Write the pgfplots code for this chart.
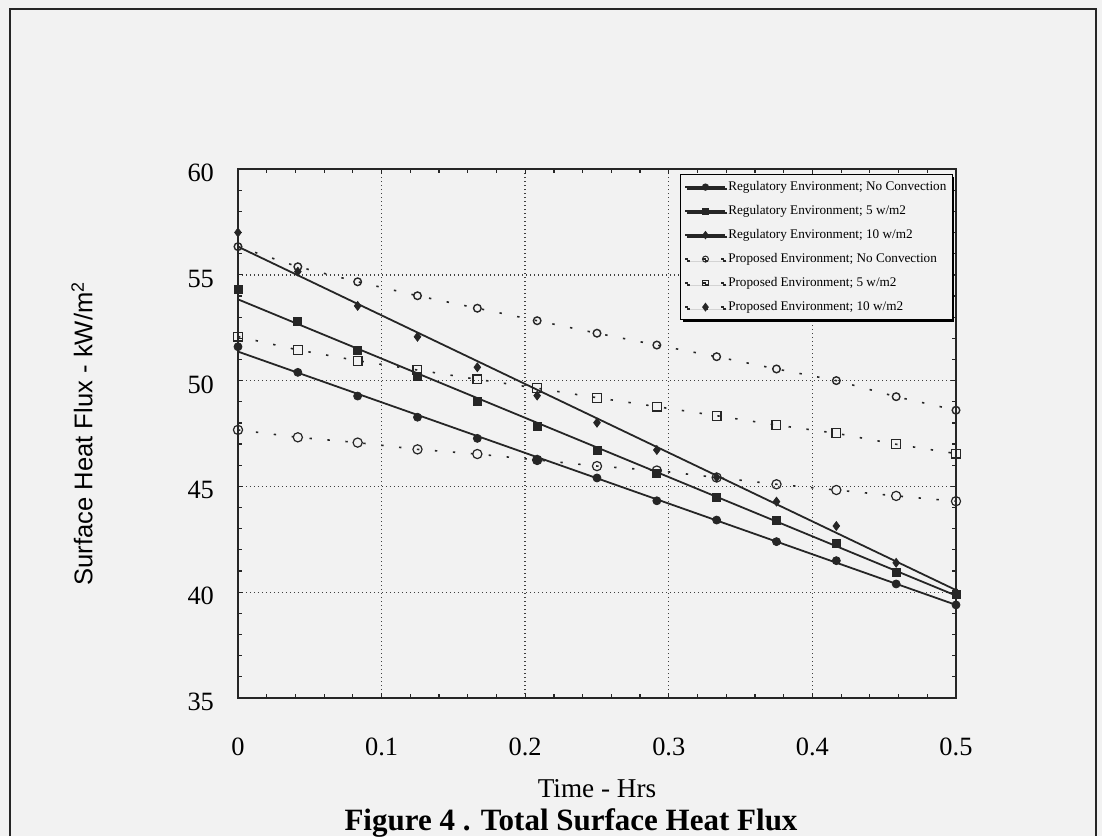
\documentclass[border=0pt]{standalone}
\usepackage{fontspec}
\setmainfont{Liberation Serif}
\newfontfamily\sansfont{Liberation Sans}
\usepackage{pgfplots}
\usepackage{pgfplotstable}
\pgfplotsset{compat=1.18}
\usetikzlibrary{shadows}

% t in hours, flux in kW/m2 (R = regulatory, P = proposed; 0/5/10 = convection w/m2)
\pgfplotstableread{
t       R0    R5    R10   P0    P5    P10
0       51.60 54.31 57.00 47.67 52.08 56.33
0.04167 50.39 52.78 55.15 47.32 51.45 55.38
0.08333 49.27 51.45 53.53 47.07 50.94 54.67
0.125   48.27 50.18 52.07 46.75 50.50 54.01
0.16667 47.27 49.00 50.63 46.53 50.06 53.42
0.20833 46.25 47.82 49.29 46.25 49.64 52.83
0.25    45.40 46.69 48.01 45.96 49.19 52.24
0.29167 44.32 45.60 46.72 45.75 48.77 51.68
0.33333 43.41 44.49 45.43 45.42 48.34 51.13
0.375   42.39 43.41 44.28 45.10 47.90 50.55
0.41667 41.49 42.31 43.13 44.83 47.51 50.00
0.45833 40.39 40.94 41.39 44.55 46.99 49.24
0.5     39.40 39.90 40.00 44.30 46.55 48.60
}\fluxdata

\begin{document}
\begin{tikzpicture}
\path[use as bounding box, fill=black!5] (-119pt,-69pt) rectangle (432pt,349pt);
\draw[line width=1.2pt, black!85] (-114pt,-69pt) -- (-114pt,344.5pt) -- (429pt,344.5pt) -- (429pt,-69pt);

\begin{axis}[
    at={(0,0)}, anchor=south west,
    scale only axis, width=359pt, height=264.5pt,
    xmin=0, xmax=0.5, ymin=35, ymax=60,
    xtick={0,0.1,0.2,0.3,0.4,0.5},
    ytick={35,40,45,50,55,60},
    minor tick num=4,
    tick align=inside,
    major tick length=2.5pt, minor tick length=2pt,
    axis line style={line width=0.8pt, black!85},
    every tick/.style={black!85, line width=0.6pt},
    grid=major,
    major grid style={black!75, line width=0.7pt, dash pattern=on 0.7pt off 1.3pt},
    clip=false,
    /pgf/number format/assume math mode=true,
    tick label style={font=\fontsize{13.2}{15}\selectfont},
    xticklabel style={anchor=base, yshift=-28.5pt},
    yticklabel style={anchor=east, xshift=-8.5pt, yshift=-2pt},
    xlabel={Time - Hrs},
    ylabel={Surface Heat Flux - kW/m\textsuperscript{2}},
    every axis x label/.style={at={(axis description cs:0.5,0)}, anchor=base, yshift=-49.5pt, font=\fontsize{13.6}{16}\selectfont},
    every axis y label/.style={at={(axis description cs:0,0.5)}, xshift=-78pt, rotate=90, anchor=center, font=\sansfont\fontsize{12.8}{15}\selectfont},
    legend image code/.code={\draw[mark repeat=2,mark phase=2,#1] plot coordinates {(0pt,0pt) (10pt,0pt) (20pt,0pt)};},
    legend style={at={(rel axis cs:1,1)}, anchor=north east, xshift=-1.5pt, yshift=-2.5pt,
        draw=black, line width=0.6pt, fill=black!5,
        drop shadow={shadow xshift=1pt, shadow yshift=-1pt, fill=black, opacity=1},
        font=\fontsize{6.6}{8}\selectfont,
        inner xsep=2pt, inner ysep=2pt, row sep=3.5pt,
        nodes={inner sep=1pt, text height=5pt, text depth=1.5pt, anchor=west}},
    legend cell align=left,
]
% regulatory: fitted straight lines and data marks
\addplot[black!85, line width=0.9pt, forget plot] coordinates {(0,51.37) (0.5,39.40)};
\addplot[black!85, line width=0.9pt, forget plot] coordinates {(0,53.84) (0.5,39.84)};
\addplot[black!85, line width=0.9pt, forget plot] coordinates {(0,56.33) (0.5,40.10)};
\addplot[only marks, mark=*, mark size=2pt, black!85, forget plot] table[x=t, y=R0] {\fluxdata};
\addplot[only marks, mark=square*, mark size=2pt, black!85, forget plot] table[x=t, y=R5] {\fluxdata};
\addplot[only marks, mark=diamond*, mark size=2.2pt, black!85, forget plot] table[x=t, y=R10] {\fluxdata};

% proposed: dotted lines with open marks
\addplot[black!85, line width=0.8pt, dash pattern=on 1.2pt off 7.8pt, mark=o, mark size=2.3pt,
    mark options={solid, line width=0.6pt}, forget plot] table[x=t, y=P0] {\fluxdata};
\addplot[black!85, line width=0.8pt, dash pattern=on 1.2pt off 7.8pt, mark=square, mark size=2.2pt,
    mark options={solid, line width=0.6pt}, forget plot] table[x=t, y=P5] {\fluxdata};
\addplot[black!85, line width=0.8pt, dash pattern=on 1.2pt off 7.8pt, mark=o, mark size=1.9pt,
    mark options={solid, line width=0.7pt}, forget plot] table[x=t, y=P10] {\fluxdata};

\addlegendimage{black!85, line width=0.8pt, mark=*, mark size=1.4pt}
\addlegendentry{Regulatory Environment; No Convection}
\addlegendimage{black!85, line width=0.8pt, mark=square*, mark size=1.4pt}
\addlegendentry{Regulatory Environment; 5 w/m2}
\addlegendimage{black!85, line width=0.8pt, mark=diamond*, mark size=1.5pt}
\addlegendentry{Regulatory Environment; 10 w/m2}
\addlegendimage{black!85, line width=0.8pt, dash pattern=on 1.2pt off 7.8pt, mark=o, mark size=1.5pt, mark options={solid, line width=0.5pt}}
\addlegendentry{Proposed Environment; No Convection}
\addlegendimage{black!85, line width=0.8pt, dash pattern=on 1.2pt off 7.8pt, mark=square, mark size=1.4pt, mark options={solid, line width=0.5pt}}
\addlegendentry{Proposed Environment; 5 w/m2}
\addlegendimage{black!85, line width=0.8pt, dash pattern=on 1.2pt off 7.8pt, mark=diamond*, mark size=1.6pt, mark options={solid}}
\addlegendentry{Proposed Environment; 10 w/m2}
\end{axis}

\node[anchor=base, font=\bfseries\fontsize{15.5}{18}\selectfont] at (166.5pt,-66pt) {Figure 4 . Total Surface Heat Flux};
\end{tikzpicture}
\end{document}
